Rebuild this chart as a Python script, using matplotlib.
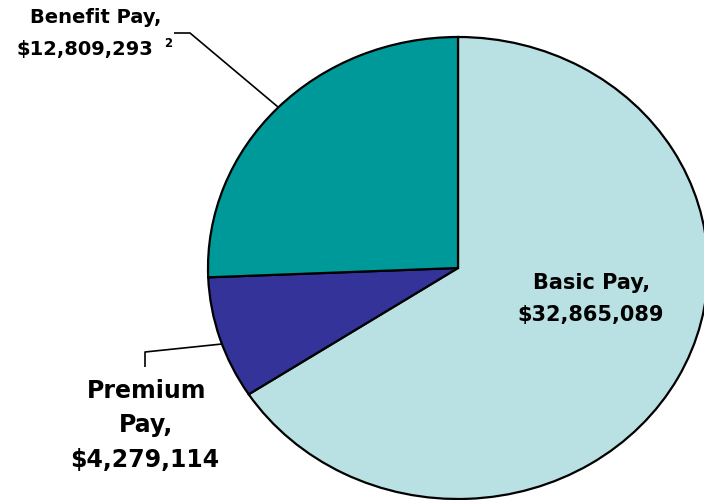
import matplotlib
matplotlib.use("Agg")
import matplotlib.pyplot as plt

# Data
categories = ["Basic Pay", "Premium Pay", "Benefit Pay"]
values = [32865089, 4279114, 12809293]
colors = ["#B9E0E3", "#333399", "#009999"]

W, H = 704, 500
fig = plt.figure(figsize=(W / 100, H / 100), dpi=100)
ax = fig.add_axes([0, 0, 1, 1])

# ellipse: rx=250 px, ry=231 px
rx, ry = 250.0, 231.0
sy = ry / rx


def P(px, py):
    """pixel (from top-left) -> data coords"""
    return px, (H - py) / sy


cx, cy = P(458, 268)
ax.pie(values, colors=colors, startangle=90, counterclock=False,
       center=(cx, cy), radius=rx,
       wedgeprops=dict(edgecolor="black", linewidth=1.6))
ax.set_aspect("auto")
ax.set_xlim(0, W)
ax.set_ylim(0, H / sy)
ax.axis("off")

font = "DejaVu Sans"


def label(px, py, s, size):
    x, y = P(px, py)
    ax.text(x, y, s, ha="center", va="baseline", fontsize=size,
            fontweight="bold", family=font, color="black")


# Basic Pay
label(592, 289, f"{categories[0]},", 15)
label(591, 321, f"${values[0]:,}", 15)

# Premium Pay
label(147, 398, "Premium", 17)
label(146, 432, "Pay,", 17)
label(145, 467, f"${values[1]:,}", 17)

# Benefit Pay
label(96, 23, f"{categories[2]},", 14)
label(85, 55, f"${values[2]:,}", 14)
label(168, 47, "2", 8.5)

# leader lines
bx, by = zip(*[P(174, 33), P(190, 33), P(278, 107)])
ax.plot(bx, by, color="black", lw=1.2, solid_capstyle="butt")
px_, py_ = zip(*[P(145, 367), P(145, 352), P(222, 344)])
ax.plot(px_, py_, color="black", lw=1.2, solid_capstyle="butt")

fig.savefig("out.png", dpi=100)
